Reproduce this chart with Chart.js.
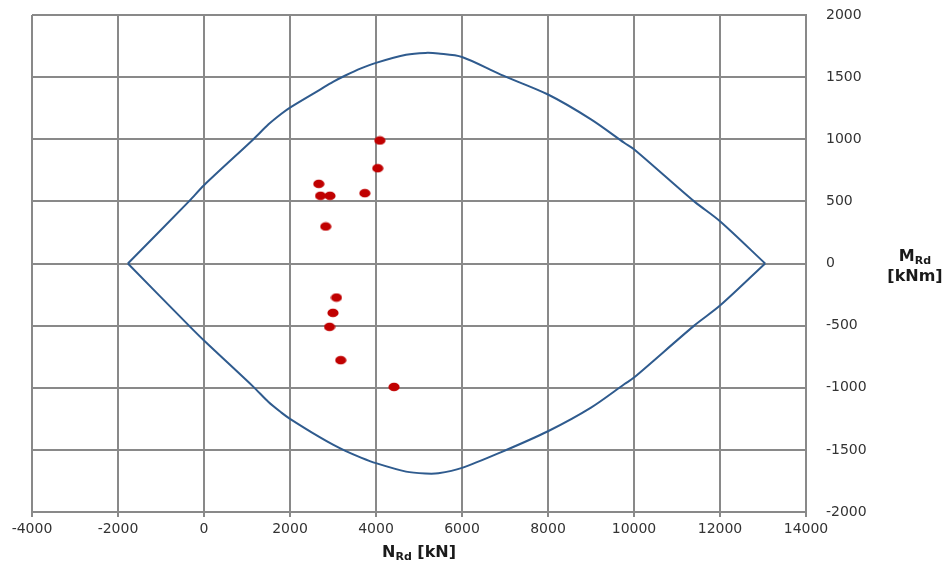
<!DOCTYPE html>
<html>
<head>
<meta charset="utf-8">
<script src="https://cdn.jsdelivr.net/npm/chart.js@4/dist/chart.umd.min.js"></script>
<style>
html,body{margin:0;padding:0;background:#fff;}
#wrap{width:946px;height:565px;position:relative;}
</style>
</head>
<body>
<div id="wrap"><canvas id="c"></canvas></div>
<script>
// Interaction diagram (N-M) envelope
const curveN     = [-1770, -350, 0, 1150, 1500, 1800, 2000, 2700, 3000, 3300, 3650, 4000, 4700, 5150, 5450, 6000, 6900, 8000, 9000, 9780, 10000, 11400, 12000, 13050];
const curveMupper= [0, 500, 630, 1000, 1120, 1205, 1255, 1400, 1462, 1515, 1570, 1615, 1680, 1695, 1690, 1662, 1520, 1360, 1160, 970, 920, 500, 340, 0];
const curveMlower= [0, -500, -620, -993, -1115, -1200, -1250, -1400, -1458, -1510, -1562, -1607, -1675, -1690, -1688, -1645, -1520, -1350, -1160, -970, -918, -500, -339, 0];
// Design load points
const loadN = [4090, 4040, 2670, 2710, 2930, 3740, 2830, 3080, 3000, 2920, 3180, 4420];
const loadM = [990, 767, 641, 545, 545, 566, 298, -274, -397, -510, -778, -993];
// Axis ticks
const xTicks = {min: -4000, max: 14000, step: 2000};
const yTicks = {min: -2000, max: 2000, step: 500};

const toXY = (xs, ys) => xs.map((x, i) => ({x: x, y: ys[i]}));

// ellipse marker
const marker = document.createElement('canvas');
marker.width = 12; marker.height = 10;
(function(){
  const g = marker.getContext('2d');
  g.fillStyle = '#C00000';
  g.beginPath();
  g.ellipse(6, 5, 5.6, 4.3, 0, 0, Math.PI * 2);
  g.fill();
})();

const FAMILY = 'DejaVu Sans';
Chart.defaults.font.family = FAMILY;
Chart.defaults.font.size = 14;
Chart.defaults.color = '#333333';

const GRID = '#898989';

const titles = {
  id: 'titles',
  afterDraw(chart) {
    const ctx = chart.ctx;
    const area = chart.chartArea;
    ctx.save();
    ctx.fillStyle = '#1a1a1a';
    ctx.textBaseline = 'alphabetic';
    const big = "bold 16px 'DejaVu Sans'";
    const small = "bold 11px 'DejaVu Sans'";
    function parts(p1, sub, p2) {
      ctx.font = big; const w1 = ctx.measureText(p1).width;
      ctx.font = small; const ws = ctx.measureText(sub).width;
      ctx.font = big; const w2 = ctx.measureText(p2).width;
      return [w1, ws, w2];
    }
    // X title: N_Rd [kN]
    let [w1, ws, w2] = parts('N', 'Rd', ' [kN]');
    let total = w1 + ws + w2;
    let cx = (area.left + area.right) / 2;
    let x = cx - total / 2, y = 557;
    ctx.font = big; ctx.fillText('N', x, y);
    ctx.font = small; ctx.fillText('Rd', x + w1, y + 3);
    ctx.font = big; ctx.fillText(' [kN]', x + w1 + ws, y);
    // Y title: M_Rd / [kNm]
    [w1, ws] = parts('M', 'Rd', '');
    total = w1 + ws;
    cx = 915;
    x = cx - total / 2; y = 261;
    ctx.font = big; ctx.fillText('M', x, y);
    ctx.font = small; ctx.fillText('Rd', x + w1, y + 3);
    ctx.font = big;
    const w3 = ctx.measureText('[kNm]').width;
    ctx.fillText('[kNm]', cx - w3 / 2, 281);
    ctx.restore();
  }
};

new Chart(document.getElementById('c'), {
  type: 'scatter',
  data: {
    datasets: [
      {
        label: 'points',
        data: toXY(loadN, loadM),
        showLine: false,
        pointStyle: marker,
        pointRadius: 5,
        order: 0
      },
      {
        label: 'upper',
        data: toXY(curveN, curveMupper),
        showLine: true,
        borderColor: '#2F5B8E',
        borderWidth: 2,
        pointRadius: 0,
        tension: 0.3,
        fill: false,
        order: 1
      },
      {
        label: 'lower',
        data: toXY(curveN, curveMlower),
        showLine: true,
        borderColor: '#2F5B8E',
        borderWidth: 2,
        pointRadius: 0,
        tension: 0.3,
        fill: false,
        order: 2
      }
    ]
  },
  options: {
    responsive: true,
    maintainAspectRatio: false,
    animation: false,
    layout: {padding: {left: 32, top: 15, right: 0, bottom: 0}},
    plugins: {legend: {display: false}, tooltip: {enabled: false}},
    scales: {
      x: {
        type: 'linear',
        position: 'bottom',
        min: xTicks.min, max: xTicks.max,
        ticks: {stepSize: xTicks.step, padding: 4, maxRotation: 0, autoSkip: false,
                font: {family: FAMILY, size: 14},
                callback: v => String(v)},
        grid: {color: GRID, lineWidth: 2, drawTicks: true, tickLength: 5, tickColor: GRID},
        border: {display: true, color: GRID, width: 2},
        afterFit: s => { s.height = 53; }
      },
      y: {
        type: 'linear',
        position: 'right',
        min: yTicks.min, max: yTicks.max,
        ticks: {stepSize: yTicks.step, padding: 2, autoSkip: false,
                font: {family: FAMILY, size: 14},
                callback: v => String(v)},
        grid: {color: GRID, lineWidth: 2, drawTicks: true, tickLength: 18, tickColor: 'rgba(0,0,0,0)'},
        border: {display: true, color: GRID, width: 2},
        afterFit: s => { s.width = 140; }
      }
    }
  },
  plugins: [titles]
});
</script>
</body>
</html>
